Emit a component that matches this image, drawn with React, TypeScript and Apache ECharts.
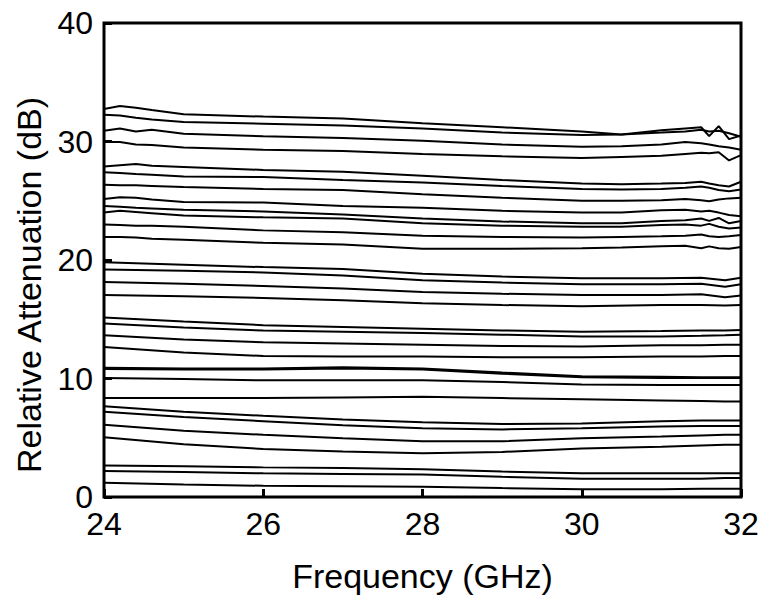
import React, { useEffect, useRef } from "react";
import * as echarts from "echarts";

// Frequency grids (GHz)
const FREQ_FINE = [24, 24.2, 24.4, 24.6, 25, 26, 27, 28, 29, 30, 30.5, 31, 31.3, 31.5, 31.6, 31.72, 31.85, 32];
const FREQ_COARSE = [24, 25, 26, 27, 28, 29, 30, 31, 31.5, 31.8, 32];

// Relative attenuation traces (dB) on FREQ_FINE
const LINE_01 = [32.75, 33.0, 32.85, 32.65, 32.3, 32.1, 31.95, 31.55, 31.2, 30.85, 30.6, 30.95, 31.1, 31.2, 30.45, 31.3, 30.2, 30.5];
const LINE_02 = [32.25, 32.2, 32.0, 31.85, 31.65, 31.5, 31.35, 31.1, 30.75, 30.55, 30.6, 30.75, 30.85, 31.0, 30.85, 30.9, 30.7, 30.4];
const LINE_03 = [30.9, 31.1, 30.85, 31.0, 30.65, 30.45, 30.3, 30.07, 29.75, 29.55, 29.6, 29.75, 29.95, 29.85, 29.75, 29.6, 29.5, 29.3];
const LINE_04 = [29.95, 29.95, 29.75, 29.7, 29.5, 29.3, 29.2, 28.95, 28.75, 28.6, 28.7, 28.8, 28.95, 29.05, 29.0, 29.1, 28.4, 28.85];
const LINE_05 = [27.9, 28.0, 28.1, 27.95, 27.85, 27.6, 27.45, 27.1, 26.75, 26.45, 26.4, 26.45, 26.5, 26.6, 26.45, 26.3, 26.2, 26.6];
const LINE_06 = [27.4, 27.35, 27.25, 27.2, 27.05, 27.0, 26.75, 26.55, 26.25, 26.0, 25.95, 26.0, 26.1, 26.2, 26.1, 25.9, 25.8, 25.95];
const LINE_07 = [26.35, 26.3, 26.3, 26.25, 26.15, 26.0, 25.9, 25.55, 25.25, 25.0, 25.0, 25.05, 25.15, 25.05, 24.95, 25.1, 25.2, 25.25];
const LINE_08 = [25.15, 25.3, 25.25, 25.1, 24.9, 24.85, 24.55, 24.4, 24.15, 24.0, 24.0, 24.2, 24.25, 24.1, 24.15, 24.0, 23.8, 23.7];
const LINE_09 = [24.55, 24.5, 24.4, 24.35, 24.25, 24.1, 23.85, 23.5, 23.25, 23.1, 23.1, 23.3, 23.35, 23.5, 23.3, 23.55, 23.1, 23.3];
const LINE_10 = [24.0, 24.15, 24.05, 23.95, 23.75, 23.6, 23.5, 23.1, 22.9, 22.8, 22.8, 22.95, 23.0, 22.9, 23.05, 22.8, 22.65, 22.75];
const LINE_11 = [23.0, 22.95, 22.9, 22.9, 22.8, 22.5, 22.35, 22.05, 21.95, 21.9, 21.95, 22.0, 22.05, 22.15, 22.0, 21.95, 22.0, 22.1];
const LINE_12 = [21.95, 21.95, 21.9, 21.8, 21.7, 21.45, 21.3, 20.95, 20.95, 21.0, 21.05, 21.15, 21.2, 21.0, 21.15, 21.0, 20.95, 21.1];

// Relative attenuation traces (dB) on FREQ_COARSE
const LINE_13 = [19.8, 19.6, 19.4, 19.25, 18.85, 18.6, 18.45, 18.45, 18.5, 18.3, 18.5];
const LINE_14 = [19.2, 19.1, 18.95, 18.7, 18.3, 18.1, 17.95, 17.95, 18.0, 17.75, 17.95];
const LINE_15 = [18.15, 18.0, 17.8, 17.6, 17.3, 17.15, 17.05, 17.05, 17.1, 16.85, 17.0];
const LINE_16 = [17.05, 16.95, 16.8, 16.6, 16.35, 16.2, 16.1, 16.2, 16.2, 16.15, 16.2];
const LINE_17 = [15.15, 14.8, 14.5, 14.35, 14.2, 14.05, 13.95, 14.0, 14.05, 14.05, 14.1];
const LINE_18 = [14.65, 14.3, 14.05, 13.95, 13.85, 13.7, 13.55, 13.55, 13.6, 13.65, 13.7];
const LINE_19 = [13.65, 13.3, 13.05, 12.95, 12.85, 12.75, 12.7, 12.8, 12.8, 12.85, 12.85];
const LINE_20 = [12.65, 12.2, 11.9, 11.85, 11.85, 11.8, 11.8, 11.85, 11.85, 11.9, 11.9];
const LINE_21 = [10.8, 10.75, 10.75, 10.85, 10.75, 10.4, 10.1, 10.05, 10.05, 10.05, 10.05];
const LINE_22 = [10.9, 10.85, 10.85, 10.95, 10.85, 10.5, 10.2, 10.15, 10.1, 10.1, 10.1];
const LINE_23 = [10.05, 9.95, 9.85, 9.85, 9.85, 9.7, 9.5, 9.45, 9.45, 9.45, 9.45];
const LINE_24 = [8.35, 8.35, 8.35, 8.4, 8.45, 8.35, 8.25, 8.15, 8.1, 8.05, 8.05];
const LINE_25 = [7.65, 7.2, 6.85, 6.55, 6.3, 6.15, 6.2, 6.4, 6.45, 6.45, 6.45];
const LINE_26 = [7.2, 6.75, 6.4, 6.05, 5.8, 5.7, 5.8, 5.95, 6.0, 6.0, 6.0];
const LINE_27 = [6.1, 5.6, 5.25, 4.95, 4.7, 4.7, 4.95, 5.1, 5.2, 5.25, 5.25];
const LINE_28 = [5.05, 4.45, 4.05, 3.85, 3.7, 3.8, 4.1, 4.25, 4.35, 4.4, 4.4];
const LINE_29 = [2.65, 2.6, 2.5, 2.45, 2.35, 2.15, 2.0, 2.0, 2.0, 2.0, 2.0];
const LINE_30 = [2.2, 2.1, 2.0, 1.95, 1.9, 1.7, 1.55, 1.55, 1.55, 1.6, 1.6];
const LINE_31 = [1.2, 1.05, 0.95, 0.9, 0.87, 0.75, 0.65, 0.65, 0.7, 0.7, 0.7];

const FINE_LINES = [LINE_01, LINE_02, LINE_03, LINE_04, LINE_05, LINE_06, LINE_07, LINE_08, LINE_09, LINE_10, LINE_11, LINE_12];
const COARSE_LINES = [LINE_13, LINE_14, LINE_15, LINE_16, LINE_17, LINE_18, LINE_19, LINE_20, LINE_21, LINE_22, LINE_23, LINE_24, LINE_25, LINE_26, LINE_27, LINE_28, LINE_29, LINE_30, LINE_31];

const X_NAME = "Frequency (GHz)";
const Y_NAME = "Relative Attenuation (dB)";

const FONT = "'Liberation Sans', Arial, sans-serif";

export default function App() {
  const ref = useRef<HTMLDivElement>(null);

  useEffect(() => {
    document.body.style.margin = "0";
    if (!ref.current) return;
    const chart = echarts.init(ref.current, undefined, { renderer: "svg" });

    const mk = (freq: number[], vals: number[], i: number) => ({
      type: "line",
      name: "trace" + i,
      data: vals.map((v, k) => [freq[k], v]),
      showSymbol: false,
      symbol: "none",
      smooth: false,
      lineStyle: { color: "#000", width: 2 },
      itemStyle: { color: "#000" },
      silent: true,
    });

    const series = [
      ...FINE_LINES.map((v, i) => mk(FREQ_FINE, v, i + 1)),
      ...COARSE_LINES.map((v, i) => mk(FREQ_COARSE, v, i + 13)),
    ];

    chart.setOption({
      animation: false,
      backgroundColor: "#fff",
      grid: {
        left: 104,
        right: 42,
        top: 23,
        bottom: 105,
        show: true,
        borderColor: "#000",
        borderWidth: 3,
        backgroundColor: "transparent",
      },
      xAxis: {
        type: "value",
        min: 24,
        max: 32,
        interval: 2,
        name: X_NAME,
        nameLocation: "middle",
        nameGap: 62,
        nameTextStyle: { fontSize: 34, color: "#000", fontFamily: FONT },
        axisLine: { show: false },
        axisTick: { show: true, inside: true, length: 8, lineStyle: { color: "#000", width: 3 } },
        axisLabel: { fontSize: 32, lineHeight: 26, color: "#000", fontFamily: FONT, margin: 14 },
        splitLine: { show: false },
      },
      yAxis: {
        type: "value",
        min: 0,
        max: 40,
        interval: 10,
        axisLine: { show: false },
        axisTick: { show: true, inside: true, length: 8, lineStyle: { color: "#000", width: 3 } },
        axisLabel: { fontSize: 32, lineHeight: 20, color: "#000", fontFamily: FONT, margin: 11 },
        splitLine: { show: false },
      },
      graphic: [
        {
          type: "text",
          x: 29,
          y: 285,
          rotation: Math.PI / 2,
          style: {
            text: Y_NAME,
            fontSize: 34,
            fontFamily: FONT,
            fill: "#000",
            align: "center",
            verticalAlign: "middle",
            textAlign: "center",
            textVerticalAlign: "middle",
          },
        },
      ],
      series,
    });

    return () => chart.dispose();
  }, []);

  return <div ref={ref} style={{ width: 783, height: 602 }} />;
}
